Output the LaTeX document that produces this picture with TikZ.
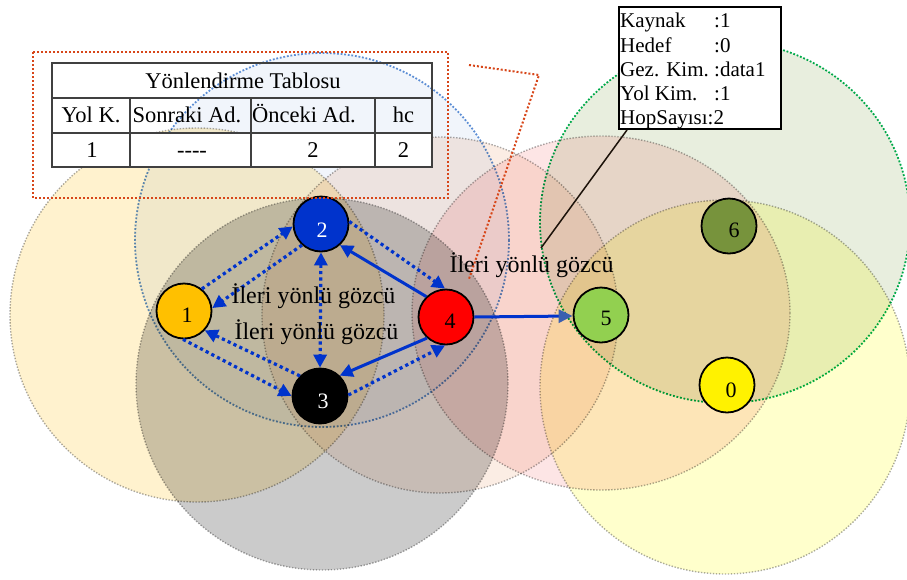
\documentclass[tikz,border=0pt]{standalone}
\usepackage{fontspec}
\setmainfont{Liberation Serif}
\usetikzlibrary{arrows.meta}

% range fills (combined by multiplication)
\definecolor{rangeorange}{RGB}{255,242,206}
\definecolor{rangegreyfill}{RGB}{203,203,203}
\definecolor{rangeblue}{RGB}{241,245,251}
\definecolor{rangepeach}{RGB}{251,237,228}
\definecolor{rangepink}{RGB}{253,229,229}
\definecolor{rangeyellow}{RGB}{255,255,204}
\definecolor{rangegreen}{RGB}{232,238,222}
% outlines
\definecolor{edgegrey}{RGB}{172,172,172}
\definecolor{edgeblue}{RGB}{95,145,215}
\definecolor{edgegreen}{RGB}{0,176,80}
\definecolor{calloutred}{RGB}{215,70,25}
\definecolor{tableline}{RGB}{64,64,64}
% stations and links
\definecolor{linkblue}{RGB}{0,51,204}
\definecolor{headblue}{RGB}{58,95,176}
\definecolor{gold}{RGB}{255,192,0}
\definecolor{lightgreen}{RGB}{146,208,80}
\definecolor{olive}{RGB}{119,147,60}

\begin{document}
\begin{tikzpicture}[x=1pt,y=-1pt,
  greyedge/.style={draw=edgegrey, line width=1.4pt, dash pattern=on 1.4pt off 1.6pt},
  blueedge/.style={draw=edgeblue, line width=1.8pt, dash pattern=on 1.8pt off 1.8pt},
  greenedge/.style={draw=edgegreen, line width=1.8pt, dash pattern=on 1.8pt off 1.8pt},
  redbox/.style={draw=calloutred, line width=2pt, dash pattern=on 2pt off 2pt},
  grid/.style={draw=tableline, line width=1.8pt},
  station/.style={circle, draw=black, line width=1.8pt, minimum size=55pt, inner sep=0pt},
  digit/.style={font=\fontsize{22}{26}\selectfont, anchor=base, inner sep=0pt},
  tabtxt/.style={font=\fontsize{22.5}{26}\selectfont, anchor=base, inner sep=0pt},
  infotxt/.style={font=\fontsize{21}{24}\selectfont, anchor=base west, inner sep=0pt},
  flowlbl/.style={font=\fontsize{24}{28}\selectfont, anchor=base, inner sep=0pt},
  dotlink/.style={draw=linkblue, line width=3.2pt, dash pattern=on 3.2pt off 3.2pt,
    -{Triangle[length=13pt,width=13pt]}, color=linkblue},
  solidlink/.style={draw=linkblue, line width=3pt,
    -{Triangle[length=13pt,width=13pt]}, color=linkblue}]

\useasboundingbox (0,0) rectangle (907,579);

% transmission ranges
\begin{scope}[blend group=multiply]
  \path[fill=rangegreyfill, greyedge] (322,384) circle[radius=186];
  \path[fill=rangeorange, greyedge] (197,315) circle[radius=187];
  \path[fill=rangeblue, blueedge] (322,240) circle[radius=187];
  \path[fill=rangepeach, greyedge] (440,315) circle[radius=178];
  \path[fill=rangepink, greyedge] (601,313) ellipse[x radius=189, y radius=177];
  \path[fill=rangegreen, greenedge] (725,222) ellipse[x radius=185, y radius=181];
  \path[fill=rangeyellow, greyedge] (725,387) ellipse[x radius=185, y radius=187];
\end{scope}

% routing table
\fill[white] (52,133) rectangle (432,167);
\draw[grid] (52,63) rectangle (432,167);
\draw[grid] (52,98) -- (432,98);
\draw[grid] (52,133) -- (432,133);
\draw[grid] (130,98) -- (130,167);
\draw[grid] (251,98) -- (251,167);
\draw[grid] (375,98) -- (375,167);
\node[tabtxt] (ttitle) at (243,88) {Yönlendirme Tablosu};
\node[tabtxt] (h1) at (91,122) {Yol K.};
\node[tabtxt] (h2) at (187,122) {Sonraki Ad.};
\node[tabtxt] (h3) at (304,122) {Önceki Ad.};
\node[tabtxt] (h4) at (403.5,122) {hc};
\node[tabtxt] (v1) at (92,157) {1};
\node[tabtxt] (v2) at (192,157) {{-}{-}{-}{-}};
\node[tabtxt] (v3) at (313,157) {2};
\node[tabtxt] (v4) at (403.5,157) {2};

% stations
\node[station, fill=gold] (n1) at (184,311) {};
\node[station, fill=linkblue] (n2) at (321,224) {};
\node[station, fill=black] (n3) at (320,396) {};
\node[station, fill=red] (n4) at (446,317) {};
\node[station, fill=lightgreen] (n5) at (601,315) {};
\node[station, fill=olive] (n6) at (729,226) {};
\node[station, fill=yellow] (n0) at (727,385) {};

\node[digit] (d1) at ([xshift=3pt,yshift=-11pt]n1.center) {1};
\node[digit, text=white] (d2) at ([xshift=1pt,yshift=-13pt]n2.center) {2};
\node[digit, text=white] (d3) at ([xshift=3pt,yshift=-12pt]n3.center) {3};
\node[digit] (d4) at ([xshift=4pt,yshift=-11pt]n4.center) {4};
\node[digit] (d5) at ([xshift=5pt,yshift=-10.5pt]n5.center) {5};
\node[digit] (d6) at ([xshift=5pt,yshift=-11.5pt]n6.center) {6};
\node[digit] (d0) at ([xshift=4pt,yshift=-12pt]n0.center) {0};

% links
\draw[dotlink] (n1.51) -- (n2.185);
\draw[dotlink] (n2.228) -- (n1.6);
\draw[dotlink] (n1.268) -- (n3.180);
\draw[dotlink] (n3.135) -- (n1.317);
\draw[dotlink, {Triangle[length=13pt,width=13pt]}-{Triangle[length=13pt,width=13pt]}] (n2.270) -- (n3.90);
\draw[dotlink] (n2.5) -- (n4.92);
\draw[solidlink] (n4.134) -- (n2.312);
\draw[solidlink] (n4.228) -- (n3.46);
\draw[dotlink] (n3.2) -- (n4.268);
\draw[draw=linkblue, line width=3pt, -{Triangle[length=14pt,width=13pt,fill=headblue,color=headblue]}] (n4.0) -- (n5.182);

% flow labels
\node[flowlbl] (lbl1) at (313.5,303) {İleri yönlü gözcü};
\node[flowlbl] (lbl2) at (316.5,339) {İleri yönlü gözcü};
\node[flowlbl] (lbl3) at (531.5,272) {İleri yönlü gözcü};

% callout framing the table
\draw[redbox] (33,52) rectangle (448,198);
\coordinate (callA) at (469,65);
\coordinate (callB) at (539,75);
\coordinate (callC) at (469,279);
\draw[redbox] (callA) -- (callB) -- (callC);

% packet header box
\node[draw=black, fill=white, line width=2pt, minimum width=162pt, minimum height=122pt,
  anchor=north west, inner sep=0pt] (info) at (618,6) {};
\node[infotxt] (k1) at (620,27) {Kaynak};
\node[infotxt] (k2) at (620,52) {Hedef};
\node[infotxt] (k3) at (620,76) {Gez. Kim.};
\node[infotxt] (k4) at (620,100) {Yol Kim.};
\node[infotxt] (k5) at (620,124) {HopSayısı:2};
\node[infotxt] (c1) at (714,27) {:1};
\node[infotxt] (c2) at (714,52) {:0};
\node[infotxt] (c3) at (714,76) {:data1};
\node[infotxt] (c4) at (714,100) {:1};
\coordinate (infoend) at (541,248);
\draw[black!85!brown, line width=1.5pt] ([xshift=9pt]info.south west) -- (infoend);

\end{tikzpicture}
\end{document}
